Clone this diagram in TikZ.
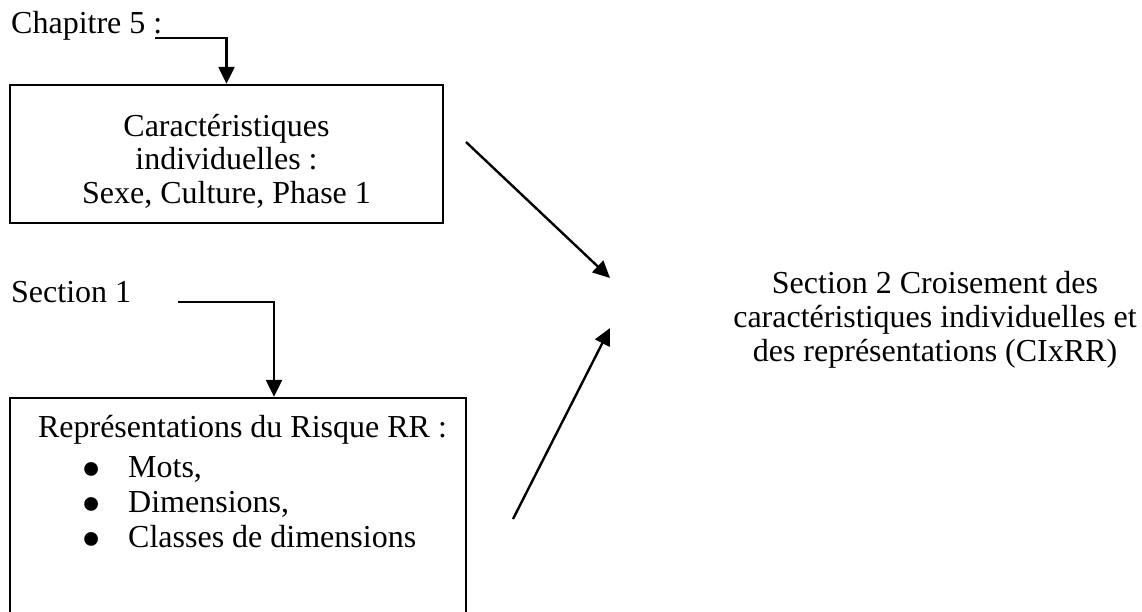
\documentclass[tikz,border=0pt]{standalone}
\usepackage{fontspec}
\usepackage{graphicx}
\setmainfont{Liberation Serif}
\usetikzlibrary{arrows.meta}

\newcommand{\puce}{\makebox[47pt][l]{\smash{\raisebox{-11pt}{\scalebox{1.8}{•}}}}}

\begin{document}
\begin{tikzpicture}[x=1pt,y=-1pt,>={Triangle[length=17pt,width=16pt]},
  line width=2.4pt,
  txt/.style={inner sep=0pt,font=\fontsize{32}{33.5}\selectfont},
  boite/.style={draw,line width=2.4pt,inner sep=0pt},
  fleche/.style={->,line width=2.4pt}]
\useasboundingbox (0,0) rectangle (1142,611);
% top block
\node[txt,anchor=base west] (chap) at (10,33) {Chapitre 5 :};
\coordinate (chapfin) at (155,38);
\node[boite,minimum width=433pt,minimum height=138pt] (carac) at (226.5,154) {};
\node[txt,align=center,anchor=base] (caractxt) at (226.5,203) {Caractéristiques\\individuelles :\\Sexe, Culture, Phase 1};
\draw[fleche] (chapfin) -| (carac.north);
% bottom block
\node[txt,anchor=base west] (sec1) at (10,302) {Section 1};
\coordinate (sec1fin) at (178,302);
\node[boite,minimum width=456pt,minimum height=250pt] (repr) at (238,523) {};
\node[txt,anchor=base] (reprtxt) at (242.5,437) {Représentations du Risque RR :};
\node[txt,align=left,anchor=base west,font=\fontsize{32}{35}\selectfont] (liste) at (80,547)
  {\puce Mots,\\\puce Dimensions,\\\puce Classes de dimensions};
\draw[fleche] (sec1fin) -| ([xshift=36pt]repr.north);
% right side
\node[txt,align=center,anchor=base,font=\fontsize{32}{34}\selectfont] (sec2) at (935,361) {Section 2 Croisement des\\caractéristiques individuelles et\\des représentations (CIxRR)};
\coordinate (a1) at (466,142);
\coordinate (b1) at (610,278);
\coordinate (a2) at (513,519);
\coordinate (b2) at (610,328);
\draw[fleche] (a1) -- (b1);
\draw[fleche] (a2) -- (b2);
\end{tikzpicture}
\end{document}
